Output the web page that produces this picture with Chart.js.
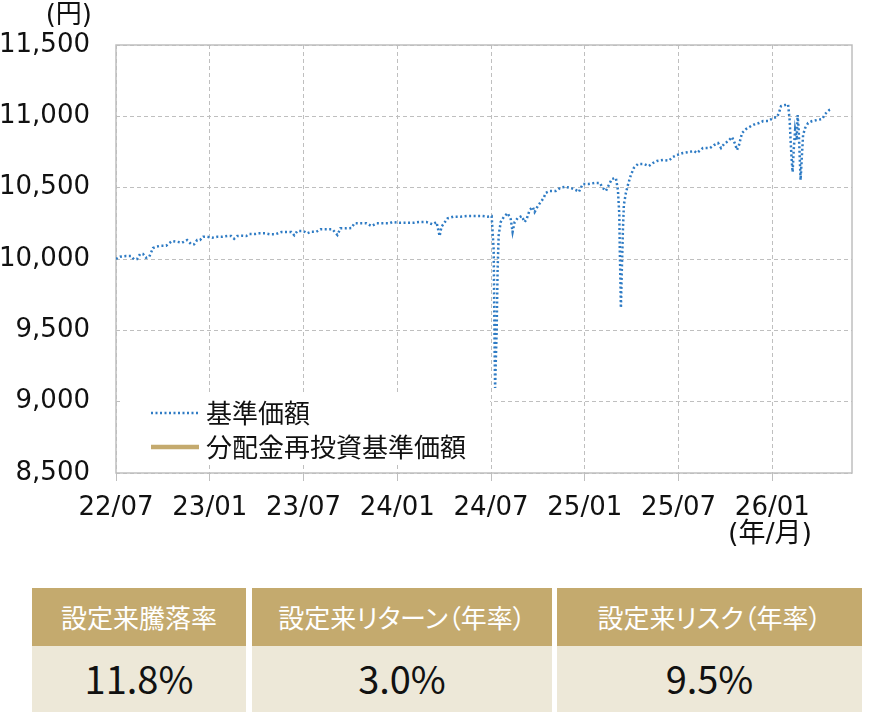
<!DOCTYPE html>
<html lang="ja">
<head>
<meta charset="utf-8">
<script src="https://cdn.jsdelivr.net/npm/chart.js@4.4.1/dist/chart.umd.min.js"></script>
<style>
  html, body { margin: 0; padding: 0; background: #fff; }
  #wrap { position: relative; width: 870px; height: 712px; overflow: hidden; }
  #chartBox { position: absolute; left: 0; top: 0; width: 870px; height: 575px; }
  .stat { position: absolute; top: 588px; height: 124px; }
  .stat .head {
    height: 58px; line-height: 58px; background: #C4AA6E; color: #fff;
    text-align: center; font-family: "Noto Sans CJK JP", sans-serif; font-size: 26px;
    font-feature-settings: "palt";
  }
  .stat .val {
    height: 66px; line-height: 64px; background: #EDE8D8; color: #111;
    text-align: center; font-family: "Noto Sans CJK JP", sans-serif; font-size: 38px;
  }
</style>
</head>
<body>
<div id="wrap">
  <div id="chartBox"><canvas id="navChart"></canvas></div>
  <div id="stats"></div>
</div>
<script>
// x = months since 2022/07, y = 基準価額 (円)
const months = [
  0.00, 0.26, 0.64, 0.96, 1.15, 1.35, 1.54, 1.73, 1.92, 2.12, 2.24, 2.37, 2.56, 2.88, 3.21,
  3.40, 3.59, 3.91, 4.23, 4.55, 4.81, 5.00, 5.19, 5.38, 5.58, 5.83, 6.15, 6.47, 6.79, 7.12,
  7.37, 7.56, 7.76, 8.08, 8.33, 8.53, 8.91, 9.17, 9.55, 9.87, 10.19, 10.58, 10.96, 11.22, 11.41,
  11.60, 11.99, 12.24, 12.50, 12.82, 13.08, 13.46, 13.85, 14.17, 14.36, 14.74, 15.06, 15.26, 15.64, 16.03,
  16.35, 16.67, 17.12, 17.50, 17.69, 18.14, 18.59, 19.04, 19.42, 19.87, 20.26, 20.51, 20.71, 20.83, 21.22,
  21.60, 22.05, 22.44, 22.95, 23.46, 23.78, 24.04, 24.17, 24.20, 24.23, 24.26, 24.36, 24.42, 24.49, 24.62,
  24.81, 25.06, 25.26, 25.38, 25.51, 25.71, 25.96, 26.15, 26.28, 26.47, 26.67, 26.79, 26.99, 27.18, 27.37,
  27.50, 27.76, 28.14, 28.46, 28.78, 29.10, 29.42, 29.62, 29.87, 30.26, 30.64, 30.96, 31.15, 31.35, 31.54,
  31.73, 31.99, 32.12, 32.21, 32.24, 32.28, 32.31, 32.37, 32.44, 32.50, 32.63, 32.76, 32.95, 33.14, 33.40,
  33.78, 34.10, 34.36, 34.62, 35.00, 35.38, 35.64, 35.90, 36.28, 36.67, 36.99, 37.18, 37.56, 38.01, 38.27,
  38.53, 38.72, 38.91, 39.17, 39.42, 39.62, 39.74, 39.87, 40.06, 40.32, 40.64, 40.90, 41.15, 41.41, 41.73,
  42.05, 42.31, 42.44, 42.56, 42.82, 43.01, 43.11, 43.17, 43.24, 43.30, 43.37, 43.46, 43.56, 43.62, 43.69,
  43.75, 43.81, 43.88, 43.97, 44.10, 44.29, 44.55, 44.87, 45.19, 45.38, 45.64, 45.83
];
const nav = [
  10000, 10016, 10021, 10021, 9998, 10000, 10035, 10035, 10009, 10014, 10044, 10077, 10086, 10093, 10093,
  10110, 10126, 10121, 10114, 10133, 10103, 10103, 10133, 10133, 10156, 10156, 10149, 10156, 10156, 10161,
  10161, 10142, 10161, 10163, 10161, 10175, 10175, 10180, 10180, 10173, 10173, 10189, 10189, 10189, 10166,
  10196, 10196, 10180, 10191, 10191, 10208, 10208, 10208, 10168, 10215, 10215, 10217, 10250, 10250, 10250,
  10231, 10250, 10250, 10250, 10259, 10254, 10254, 10254, 10259, 10259, 10243, 10259, 10161, 10226, 10285,
  10297, 10297, 10301, 10301, 10301, 10297, 10301, 10063, 9713, 9362, 9096, 9502, 9923, 10168, 10259,
  10294, 10322, 10280, 10189, 10259, 10287, 10301, 10259, 10280, 10343, 10364, 10329, 10371, 10399, 10428,
  10463, 10477, 10477, 10501, 10505, 10498, 10484, 10470, 10526, 10526, 10533, 10533, 10498, 10477, 10519,
  10561, 10568, 10484, 10308, 10063, 9853, 9657, 9923, 10203, 10379, 10463, 10519, 10589, 10638, 10666,
  10666, 10652, 10673, 10687, 10694, 10690, 10715, 10729, 10743, 10750, 10757, 10743, 10778, 10778, 10799,
  10813, 10778, 10806, 10827, 10855, 10806, 10764, 10799, 10883, 10911, 10932, 10946, 10953, 10967, 10967,
  10988, 10995, 11030, 11072, 11079, 11083, 10974, 10834, 10694, 10610, 10764, 10904, 10834, 11009, 10904,
  10729, 10554, 10694, 10869, 10918, 10953, 10967, 10974, 10981, 11016, 11044, 11051
];
const reinvestNav = [];   // not drawn in the reference, legend only

const tickMonths = [0, 6, 12, 18, 24, 30, 36, 42];
const tickLabels = ['22/07', '23/01', '23/07', '24/01', '24/07', '25/01', '25/07', '26/01'];
const seriesNames = ['基準価額', '分配金再投資基準価額'];

const statLabels = ['設定来騰落率', '設定来リターン（年率）', '設定来リスク（年率）'];
const statValues = ['11.8%', '3.0%', '9.5%'];

const BLUE = '#2E7BC4';
const GOLD = '#C4AA6E';
const GRID = '#BFBFBF';

// stats table
const statBoxes = [[32, 214], [252, 300], [557, 305]];
document.getElementById('stats').innerHTML = statLabels.map((t, i) =>
  `<div class="stat" style="left:${statBoxes[i][0]}px;width:${statBoxes[i][1]}px">` +
  `<div class="head">${t}</div><div class="val">${statValues[i]}</div></div>`
).join('');

const framePlugin = {
  id: 'frame',
  beforeDatasetsDraw(chart) {
    const {ctx, chartArea: a} = chart;
    ctx.save();
    ctx.strokeStyle = GRID;
    ctx.lineWidth = 1.5;
    ctx.strokeRect(a.left, a.top, a.right - a.left, a.bottom - a.top);
    ctx.restore();
  }
};

const insideLegend = {
  id: 'insideLegend',
  afterDatasetsDraw(chart) {
    const ctx = chart.ctx;
    ctx.save();
    ctx.fillStyle = '#fff';
    ctx.fillRect(121, 392, 369, 71);
    const rows = [413, 447];
    chart.data.datasets.forEach((ds, i) => {
      const y = rows[i];
      ctx.beginPath();
      ctx.strokeStyle = ds.borderColor;
      ctx.lineWidth = i === 0 ? 2.5 : 4.5;
      ctx.setLineDash(ds.borderDash || []);
      ctx.moveTo(151, y);
      ctx.lineTo(199, y);
      ctx.stroke();
      ctx.setLineDash([]);
      ctx.fillStyle = '#111';
      ctx.font = '26px "Noto Sans CJK JP"';
      ctx.textBaseline = 'middle';
      ctx.textAlign = 'left';
      ctx.fillText(ds.label, 206, y);
    });
    // unit labels
    ctx.font = '26px "DejaVu Sans", "Noto Sans CJK JP"';
    ctx.textAlign = 'right';
    ctx.fillText('(円)', 92, 16);
    ctx.textAlign = 'center';
    ctx.font = '27px "DejaVu Sans", "Noto Sans CJK JP"';
    ctx.fillText('(年/月)', 770, 535);
    ctx.restore();
  }
};

new Chart(document.getElementById('navChart'), {
  type: 'line',
  data: {
    datasets: [{
      label: seriesNames[0],
      data: months.map((m, i) => ({x: m, y: nav[i]})),
      borderColor: BLUE,
      borderWidth: 2.5,
      borderDash: [2, 2.5],
      borderCapStyle: 'butt',
      pointRadius: 0,
      tension: 0,
      fill: false
    }, {
      label: seriesNames[1],
      data: reinvestNav,
      borderColor: GOLD,
      borderWidth: 4,
      pointRadius: 0,
      fill: false
    }]
  },
  options: {
    responsive: true,
    maintainAspectRatio: false,
    animation: false,
    layout: { padding: { top: 45, right: 18, left: 0, bottom: 0 } },
    plugins: {
      legend: { display: false },
      tooltip: { enabled: false }
    },
    scales: {
      x: {
        type: 'linear',
        min: 0,
        max: 47.1,
        afterBuildTicks: scale => { scale.ticks = tickMonths.map(v => ({value: v})); },
        afterFit: scale => { scale.height = 102; },
        ticks: {
          autoSkip: false,
          maxRotation: 0,
          padding: 12,
          color: '#111',
          font: { family: "'DejaVu Sans'", size: 26 },
          callback: (value, index) => tickLabels[index]
        },
        grid: {
          color: GRID,
          lineWidth: 1,
          drawTicks: true,
          tickLength: 8,
          tickColor: GRID,
          tickBorderDash: []
        },
        border: { display: false, dash: [4, 3] }
      },
      y: {
        min: 8500,
        max: 11500,
        afterFit: scale => { scale.width = 116; },
        ticks: {
          stepSize: 500,
          padding: 26,
          color: '#111',
          font: { family: "'DejaVu Sans'", size: 26 },
          callback: value => value.toLocaleString('en-US')
        },
        grid: { color: GRID, lineWidth: 1, drawTicks: false },
        border: { display: false, dash: [4, 3] }
      }
    }
  },
  plugins: [framePlugin, insideLegend]
});
</script>
</body>
</html>
